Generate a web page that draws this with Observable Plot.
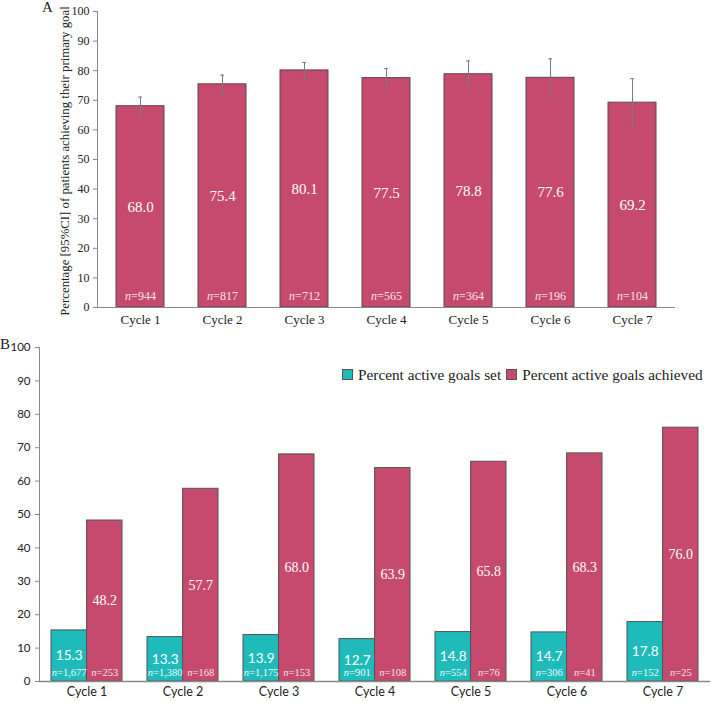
<!DOCTYPE html>
<html><head><meta charset="utf-8">
<script src="https://cdn.jsdelivr.net/npm/d3@7"></script>
<script src="https://cdn.jsdelivr.net/npm/@observablehq/plot@0.6"></script>
<style>
body{margin:0;background:#fff}
#chart{position:relative;width:711px;height:701px;overflow:hidden}
#chart svg{display:block}
.plab{position:absolute;font-family:"Liberation Serif","Times New Roman",serif;font-size:15px;color:#222;line-height:1}
.legend{position:absolute;top:367px;left:342px;display:flex;align-items:center;font-family:"Liberation Serif","Times New Roman",serif;font-size:15.3px;color:#222;white-space:nowrap;line-height:1}
.legend .sw{display:inline-block;width:9px;height:9px;border:1px solid #555;margin-right:5px}
.legend .item{display:flex;align-items:center;margin-right:5px}
</style></head><body><div id="chart"></div>
<script>
// ---- Data ----
const cycles = ["Cycle 1","Cycle 2","Cycle 3","Cycle 4","Cycle 5","Cycle 6","Cycle 7"];
// Panel A: percent of patients achieving their primary goal, with 95% CI
const achievedPct = [68.0, 75.4, 80.1, 77.5, 78.8, 77.6, 69.2];
const ciLow  = [65.0, 72.2, 77.1, 74.1, 74.1, 71.1, 61.1];
const ciHigh = [71.1, 78.5, 82.8, 80.7, 83.3, 84.0, 77.3];
const nPatients = [944, 817, 712, 565, 364, 196, 104];
const yLabelA = "Percentage [95%CI] of patients achieving their primary goal";
// Panel B
const seriesNames = ["Percent active goals set", "Percent active goals achieved"];
const goalsSetPct = [15.3, 13.3, 13.9, 12.7, 14.8, 14.7, 17.8];
const goalsAchievedPct = [48.2, 57.7, 68.0, 63.9, 65.8, 68.3, 76.0];
const nGoalsSet = [1677, 1380, 1175, 901, 554, 306, 152];
const nGoalsAchieved = [253, 168, 153, 108, 76, 41, 25];
const yTicks = [0, 10, 20, 30, 40, 50, 60, 70, 80, 90, 100];
const seriesColors = ["#1EBBBA", "#C64A6E"];

const serif = '"Liberation Serif","Times New Roman",serif';
const sans = 'Lato,"Open Sans",sans-serif';
const fmtN = d3.format(",");
const fmt1 = d3.format(".1f");

const dataA = cycles.map((c, i) => ({cycle: c, pct: achievedPct[i], lo: ciLow[i], hi: ciHigh[i], n: nPatients[i]}));
const dataB = cycles.map((c, i) => ({cycle: c, set: goalsSetPct[i], ach: goalsAchievedPct[i], nSet: nGoalsSet[i], nAch: nGoalsAchieved[i]}));

const plotA = Plot.plot({
  width: 711, height: 338,
  marginTop: 11, marginBottom: 31, marginLeft: 97, marginRight: 36,
  style: {fontFamily: serif, fontSize: "13px", color: "#222", background: "white", overflow: "visible"},
  x: {domain: cycles, paddingInner: 0.42, paddingOuter: 0.22, label: null},
  y: {domain: [0, 100], label: null},
  marks: [
    Plot.barY(dataA, {x: "cycle", y: "pct", fill: seriesColors[1], stroke: "#5b4650", strokeWidth: 1}),
    Plot.ruleX(dataA, {x: "cycle", y1: "lo", y2: "hi", stroke: "#7a7a7a", strokeWidth: 1}),
    Plot.tickY(dataA, {x: "cycle", y: "lo", stroke: "#7a7a7a", insetLeft: 22, insetRight: 22}),
    Plot.tickY(dataA, {x: "cycle", y: "hi", stroke: "#7a7a7a", insetLeft: 22, insetRight: 22}),
    Plot.text(dataA, {x: "cycle", y: d => d.pct / 2, text: d => fmt1(d.pct), fill: "white", fontSize: 15}),
    Plot.text(dataA, {x: "cycle", y: 0, dy: -11, text: d => "n=" + fmtN(d.n), fill: "#f6e4ea", fontSize: 12}),
    Plot.axisY({ticks: yTicks, tickSize: 4, tickPadding: 4, stroke: "#888", fill: "#222", fontSize: 12, label: null}),
    Plot.axisX({tickSize: 0, tickPadding: 7, fontSize: 13, fill: "#222", label: null}),
    Plot.ruleY([0], {stroke: "#888"}),
    Plot.frame({anchor: "left", stroke: "#888"})
  ]
});

const plotB = Plot.plot({
  width: 711, height: 363,
  marginTop: 9, marginBottom: 20, marginLeft: 39, marginRight: 1,
  style: {fontFamily: sans, fontSize: "12px", color: "#222", background: "white", overflow: "visible"},
  x: {domain: cycles, paddingInner: 0.26, paddingOuter: 0.12, label: null},
  y: {domain: [0, 100], label: null},
  marks: [
    Plot.barY(dataB, {x: "cycle", y: "set", fill: seriesColors[0], stroke: "#555", strokeWidth: 1, insetRight: 35.55}),
    Plot.barY(dataB, {x: "cycle", y: "ach", fill: seriesColors[1], stroke: "#555", strokeWidth: 1, insetLeft: 35.55}),
    Plot.text(dataB, {x: "cycle", y: d => d.set / 2, dx: -17.8, text: d => fmt1(d.set), fill: "white", fontSize: 13.5, fontFamily: sans}),
    Plot.text(dataB, {x: "cycle", y: d => d.ach / 2, dx: 17.8, text: d => fmt1(d.ach), fill: "white", fontSize: 14, fontFamily: serif}),
    Plot.text(dataB, {x: "cycle", y: 0, dy: -9, dx: -17.8, text: d => "n=" + fmtN(d.nSet), fill: "#eefafa", fontSize: 10.5, fontFamily: serif}),
    Plot.text(dataB, {x: "cycle", y: 0, dy: -9, dx: 17.8, text: d => "n=" + fmtN(d.nAch), fill: "#f6e4ea", fontSize: 10.5, fontFamily: serif}),
    Plot.axisY({ticks: yTicks, tickSize: 4, tickPadding: 5, stroke: "#888", fill: "#222", fontSize: 11.5, label: null}),
    Plot.axisX({tickSize: 0, tickPadding: 6, fontSize: 12.5, fill: "#222", label: null}),
    Plot.ruleY([0], {stroke: "#888", strokeWidth: 1.5}),
    Plot.frame({anchor: "left", stroke: "#888"})
  ]
});

function italicN(svg) {
  d3.select(svg).selectAll("text").each(function() {
    const t = this.textContent;
    if (/^n=/.test(t) && this.childElementCount === 0) {
      this.textContent = "";
      d3.select(this).append("tspan").attr("font-style", "italic").text("n");
      d3.select(this).append("tspan").text(t.slice(1));
    }
  });
}
italicN(plotA);
italicN(plotB);

// y-axis title for panel A, centred on the plot's vertical extent
d3.select(plotA).append("text")
  .attr("transform", "translate(65,161) rotate(-90)")
  .attr("text-anchor", "middle")
  .attr("dominant-baseline", "central")
  .attr("font-family", serif)
  .attr("font-size", 12.8)
  .attr("fill", "#222")
  .text(yLabelA);

const chart = document.getElementById("chart");
chart.appendChild(plotA);
chart.appendChild(plotB);

const la = document.createElement("div"); la.className = "plab"; la.textContent = "A";
la.style.left = "42px"; la.style.top = "0px"; chart.appendChild(la);
const lb = document.createElement("div"); lb.className = "plab"; lb.textContent = "B";
lb.style.left = "0px"; lb.style.top = "337px"; chart.appendChild(lb);

const legend = document.createElement("div"); legend.className = "legend";
seriesNames.forEach((name, i) => {
  const item = document.createElement("span"); item.className = "item";
  const sw = document.createElement("span"); sw.className = "sw"; sw.style.background = seriesColors[i];
  item.appendChild(sw);
  item.appendChild(document.createTextNode(name));
  legend.appendChild(item);
});
chart.appendChild(legend);
</script>
</body></html>
